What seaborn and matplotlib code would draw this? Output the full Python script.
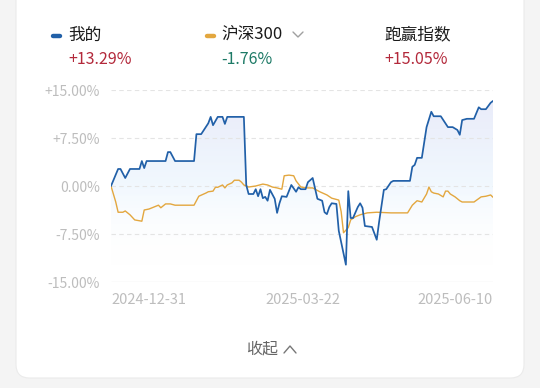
import numpy as np
import pandas as pd
import matplotlib
matplotlib.use("Agg")
import matplotlib.pyplot as plt
import matplotlib.dates as mdates
from matplotlib.patches import FancyBboxPatch
from matplotlib.lines import Line2D
from matplotlib.colors import LinearSegmentedColormap
import seaborn as sns

# ---------------- data ----------------
mine_dates = ["2024-12-31", "2025-01-03", "2025-01-04", "2025-01-06", "2025-01-08", "2025-01-12",
              "2025-01-13", "2025-01-14", "2025-01-15", "2025-01-23", "2025-01-24", "2025-01-25",
              "2025-01-27", "2025-02-04", "2025-02-05", "2025-02-07", "2025-02-10", "2025-02-11",
              "2025-02-12", "2025-02-14", "2025-02-16", "2025-02-17", "2025-02-18", "2025-02-25",
              "2025-02-26", "2025-02-27", "2025-03-01", "2025-03-02", "2025-03-03", "2025-03-04",
              "2025-03-05", "2025-03-06", "2025-03-07", "2025-03-08", "2025-03-10", "2025-03-11",
              "2025-03-12", "2025-03-13", "2025-03-15", "2025-03-17", "2025-03-19", "2025-03-20",
              "2025-03-21", "2025-03-23", "2025-03-24", "2025-03-26", "2025-03-28", "2025-03-30",
              "2025-03-31", "2025-04-01", "2025-04-02", "2025-04-03", "2025-04-05", "2025-04-06",
              "2025-04-09", "2025-04-10", "2025-04-11", "2025-04-12", "2025-04-14", "2025-04-15",
              "2025-04-16", "2025-04-17", "2025-04-20", "2025-04-22", "2025-04-23", "2025-04-25",
              "2025-04-26", "2025-04-28", "2025-04-29", "2025-05-06", "2025-05-07", "2025-05-08",
              "2025-05-09", "2025-05-11", "2025-05-13", "2025-05-15", "2025-05-16", "2025-05-19",
              "2025-05-22", "2025-05-24", "2025-05-26", "2025-05-27", "2025-05-28", "2025-05-30",
              "2025-06-02", "2025-06-04", "2025-06-05", "2025-06-07", "2025-06-09", "2025-06-10"]
mine_values = [0.0, 2.66, 2.66, 1.25, 2.66, 2.66,
               3.9, 2.8, 3.9, 3.9, 5.3, 5.3,
               3.9, 3.9, 8.1, 8.1, 9.8, 10.8,
               9.5, 10.8, 10.8, 9.7, 10.8, 10.8,
               0.16, -1.25, -1.25, -0.5, -1.6, -0.5,
               -1.9, -1.7, -2.3, -0.6, -2.0, -4.2,
               -2.7, -1.6, -1.7, 0.16, -0.9, -0.2,
               -0.5, -0.5, 0.6, 1.25, -2.0, -2.3,
               -4.1, -4.4, -3.3, -2.7, -2.8, -7.0,
               -12.3, -0.8, -5.0, -5.0, -3.3, -2.7,
               -3.4, -6.25, -6.4, -8.4, -5.6, -0.6,
               -0.5, 0.6, 0.8, 0.8, 3.0, 3.3,
               4.4, 4.4, 9.2, 11.6, 10.9, 10.9,
               9.2, 9.2, 8.75, 8.0, 10.3, 10.5,
               10.5, 12.3, 12.0, 12.0, 13.0, 13.29]

hs300_dates = ["2024-12-31", "2025-01-02", "2025-01-03", "2025-01-05", "2025-01-06", "2025-01-08",
               "2025-01-10", "2025-01-13", "2025-01-14", "2025-01-16", "2025-01-18", "2025-01-20",
               "2025-01-21", "2025-01-23", "2025-01-25", "2025-01-27", "2025-02-04", "2025-02-06",
               "2025-02-09", "2025-02-10", "2025-02-12", "2025-02-13", "2025-02-14", "2025-02-16",
               "2025-02-17", "2025-02-18", "2025-02-20", "2025-02-21", "2025-02-23", "2025-02-24",
               "2025-02-25", "2025-02-27", "2025-03-02", "2025-03-05", "2025-03-07", "2025-03-09",
               "2025-03-11", "2025-03-13", "2025-03-14", "2025-03-16", "2025-03-18", "2025-03-19",
               "2025-03-21", "2025-03-24", "2025-03-26", "2025-03-29", "2025-04-01", "2025-04-03",
               "2025-04-06", "2025-04-07", "2025-04-08", "2025-04-10", "2025-04-11", "2025-04-13",
               "2025-04-15", "2025-04-18", "2025-04-22", "2025-04-28", "2025-05-05", "2025-05-07",
               "2025-05-09", "2025-05-11", "2025-05-13", "2025-05-14", "2025-05-15", "2025-05-16",
               "2025-05-18", "2025-05-20", "2025-05-21", "2025-05-22", "2025-05-23", "2025-05-25",
               "2025-05-27", "2025-05-28", "2025-05-30", "2025-06-02", "2025-06-05", "2025-06-07",
               "2025-06-09", "2025-06-10"]
hs300_values = [0.0, -2.5, -4.1, -4.1, -3.9, -4.5,
                -5.3, -5.5, -3.75, -3.6, -3.3, -3.0,
                -3.4, -2.8, -2.8, -3.0, -3.0, -1.6,
                -1.1, -0.9, -0.8, -0.2, -0.2, 0.16,
                -0.3, 0.16, 0.5, 0.9, 0.9, 0.6,
                0.16, -0.16, 0.0, 0.3, 0.16, -0.16,
                -0.3, -0.5, 1.6, 1.7, 1.6, 0.8,
                -0.16, -0.3, -0.3, -0.9, -1.4, -1.9,
                -2.2, -4.0, -7.3, -6.5, -5.3, -4.8,
                -4.5, -4.2, -4.1, -4.2, -4.2, -3.0,
                -2.3, -2.5, -1.25, -0.16, -0.9, -1.1,
                -1.25, -1.7, -0.8, -0.8, -1.25, -1.7,
                -2.3, -2.5, -2.5, -2.5, -1.7, -1.6,
                -1.4, -1.76]

series_names = ["我的", "沪深300", "跑赢指数"]
series_returns = ["+13.29%", "-1.76%", "+15.05%"]
y_ticks = [-15, -7.5, 0, 7.5, 15]
y_tick_labels = ["-15.00%", "-7.50%", "0.00%", "+7.50%", "+15.00%"]
x_tick_labels = ["2024-12-31", "2025-03-22", "2025-06-10"]
footer_text = "收起"

# ---------------- style ----------------
BLUE = "#2160a8"
ORANGE = "#e3a73f"
RED = "#b3293b"
GREEN = "#1d7a66"
W, H = 540, 388

sns.set_theme(style="white")
plt.rcParams["font.family"] = ["Noto Sans CJK SC", "DejaVu Sans"]

fig = plt.figure(figsize=(W / 100, H / 100), dpi=100)
fig.patch.set_facecolor("#f4f4f4")

def fx(px):
    return px / W

def fy(py):
    return 1 - py / H

card = FancyBboxPatch((fx(16), fy(378)), fx(508), 400 / H,
                      boxstyle="round,pad=0,rounding_size=0.025",
                      mutation_aspect=W / H,
                      transform=fig.transFigure, fc="white", ec="#ebebeb", lw=0.8, zorder=-5)
fig.patches.append(card)

ax = fig.add_axes([fx(111), 106 / H, 382 / W, 192 / H])
ax.set_zorder(2)
ax.patch.set_alpha(0)

mine = pd.DataFrame({"date": pd.to_datetime(mine_dates), "value": mine_values, "series": series_names[0]})
hs = pd.DataFrame({"date": pd.to_datetime(hs300_dates), "value": hs300_values, "series": series_names[1]})

# gradient fill under my line
xnum = mdates.date2num(mine["date"])
lower = min(mine_values) - 0.2
poly = ax.fill_between(mine["date"], mine["value"], lower, color="none", lw=0)
cmap = LinearSegmentedColormap.from_list(
    "g", [(1, 1, 1, 0.0), (0.945, 0.972, 0.996, 1.0), (0.915, 0.925, 0.978, 1.0)])
grad = np.linspace(0, 1, 256).reshape(-1, 1)
im = ax.imshow(grad, extent=[xnum[0], xnum[-1], lower, max(mine_values)],
               origin="lower", aspect="auto", cmap=cmap, zorder=0.5)
im.set_clip_path(poly.get_paths()[0], transform=ax.transData)

# grid
for yv in [15, 7.5, 0, -7.5]:
    ax.axhline(yv, color="#e4e4e4", lw=0.8, dashes=(4, 3), zorder=0.6)
ax.axhline(-15, color="#e6e6e6", lw=0.9, zorder=0.6)

sns.lineplot(data=hs, x="date", y="value", color=ORANGE, lw=1.0, ax=ax, zorder=2)
sns.lineplot(data=mine, x="date", y="value", color=BLUE, lw=1.25, ax=ax, zorder=3)

d0, d1 = pd.Timestamp(x_tick_labels[0]), pd.Timestamp(x_tick_labels[-1])
ax.set_xlim(d0, d1)
ax.set_ylim(-15, 15)
for s in ax.spines.values():
    s.set_visible(False)
ax.set_xlabel("")
ax.set_ylabel("")

ax.set_yticks(y_ticks)
ax.set_yticklabels(y_tick_labels)
ax.tick_params(axis="y", length=0, pad=8, labelsize=10, labelcolor="#bdbdbd")

ax.set_xticks(pd.to_datetime(x_tick_labels))
ax.set_xticklabels(x_tick_labels)
ax.tick_params(axis="x", length=0, pad=8, labelsize=10.5, labelcolor="#bdbdbd")
for lbl, ha in zip(ax.get_xticklabels(), ["left", "center", "right"]):
    lbl.set_ha(ha)

# header
title_y = fy(35)
ret_y = fy(59)
xs_text = [68, 221, 384]
ret_colors = [RED, GREEN, RED]
for name, ret, xp, c in zip(series_names, series_returns, xs_text, ret_colors):
    fig.text(fx(xp), title_y, name, fontsize=12, color="#1a1a1a", va="center", ha="left",
             fontweight="medium")
    fig.text(fx(xp), ret_y, ret, fontsize=11.5, color=c, va="center", ha="left")

fig.add_artist(Line2D([fx(53), fx(60)], [fy(36), fy(36)], color=BLUE, lw=3.2,
                      solid_capstyle="round", transform=fig.transFigure))
fig.add_artist(Line2D([fx(207), fx(214)], [fy(36), fy(36)], color=ORANGE, lw=3.2,
                      solid_capstyle="round", transform=fig.transFigure))
# dropdown chevron
fig.add_artist(Line2D([fx(293), fx(298), fx(303)], [fy(32), fy(37), fy(32)], color="#a0a0a0",
                      lw=1.0, transform=fig.transFigure))

# footer
fig.text(fx(262), fy(349), footer_text, fontsize=11.5, color="#666666", va="center", ha="center")
fig.add_artist(Line2D([fx(284), fx(290), fx(296)], [fy(353), fy(346), fy(353)], color="#777777",
                      lw=1.0, transform=fig.transFigure))

fig.savefig("out.png", dpi=100, facecolor=fig.get_facecolor())
